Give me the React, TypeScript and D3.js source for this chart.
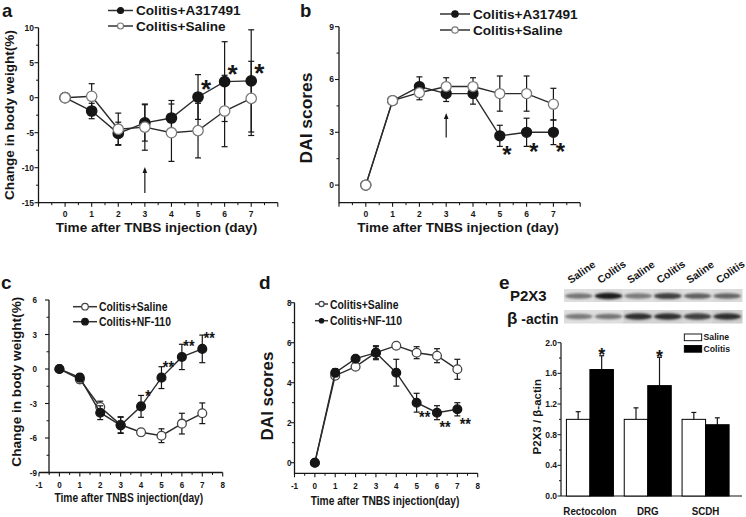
import React from "react";
import * as d3 from "d3";

const FONT = "'Liberation Sans', Arial, Helvetica, sans-serif";
const K = "#161616";

// ---------------- data ----------------
const days = [0, 1, 2, 3, 4, 5, 6, 7];

// panel a: change in body weight (%)
const aA317491 = [0, -1.9, -5.1, -3.6, -2.9, 0.1, 2.3, 2.4];
const aA317491Err = [0, 1.1, 1.6, 2.6, 2.5, 3.2, 5.7, 7.3];
const aSaline = [0, 0.2, -4.5, -4.2, -5.0, -4.7, -1.9, -0.1];
const aSalineErr = [0, 1.8, 2.3, 3.3, 4.1, 3.9, 5.1, 5.3];
const aStars = ["", "", "", "", "", "*", "*", "*"];

// panel b: DAI scores
const bA317491 = [0, 4.8, 5.6, 5.2, 5.2, 2.8, 3.0, 3.0];
const bA317491Err = [0, 0.1, 0.55, 0.45, 0.6, 0.6, 0.8, 0.7];
const bSaline = [0, 4.8, 5.25, 5.6, 5.6, 5.2, 5.2, 4.6];
const bSalineErr = [0, 0.15, 0.4, 0.5, 0.5, 1.0, 1.0, 0.9];
const bStars = ["", "", "", "", "", "*", "*", "*"];

// panel c: change in body weight (%)
const cSaline = [0, -0.9, -3.3, -4.85, -5.5, -5.8, -4.75, -3.85];
const cSalineErr = [0, 0.3, 0.5, 0.7, 0.3, 0.6, 0.9, 0.9];
const cNF110 = [0, -0.75, -3.8, -4.9, -3.25, -0.75, 1.05, 1.75];
const cNF110Err = [0, 0.3, 0.6, 0.7, 0.95, 0.95, 1.1, 1.2];
const cStars = ["", "", "", "", "*", "**", "**", "**"];

// panel d: DAI scores
const dSaline = [0, 4.35, 4.8, 5.5, 5.85, 5.5, 5.35, 4.67];
const dSalineErr = [0, 0.15, 0.12, 0.3, 0.1, 0.3, 0.35, 0.5];
const dNF110 = [0, 4.5, 5.2, 5.5, 4.5, 3.0, 2.5, 2.67];
const dNF110Err = [0, 0.2, 0.15, 0.35, 0.67, 0.47, 0.35, 0.33];
const dStars = ["", "", "", "", "", "**", "**", "**"];

// panel e: P2X3 / beta-actin
const eCategories = ["Rectocolon", "DRG", "SCDH"];
const eGroups = ["Saline", "Colitis"];
const eSaline = [1.0, 1.0, 1.0];
const eSalineErr = [0.1, 0.15, 0.09];
const eColitis = [1.65, 1.44, 0.93];
const eColitisErr = [0.18, 0.37, 0.09];
const eStars = ["*", "*", ""];
const blotLanes = ["Saline", "Colitis", "Saline", "Colitis", "Saline", "Colitis"];
const p2x3Band = [0.62, 0.9, 0.6, 0.8, 0.7, 0.68];
const actinBand = [0.6, 0.62, 0.85, 0.85, 0.8, 0.85];
const actinBg = [0.78, 0.78, 0.72, 0.72, 0.74, 0.7];

// ---------------- helpers ----------------
function CText(p: any) {
  const { x, y, sx = 1, size, anchor = "start", rotate = 0, weight = "bold", fill = K, children, style } = p;
  return (
    <text
      transform={`translate(${x},${y}) rotate(${rotate}) scale(${sx},1)`}
      fontSize={size}
      textAnchor={anchor}
      fontWeight={weight}
      fontFamily={FONT}
      fill={fill}
      style={style}
    >
      {children}
    </text>
  );
}

type Series = { values: number[]; errs: number[]; filled: boolean };

function LineChart(p: any) {
  const x = p.x as d3.ScaleLinear<number, number>;
  const y = p.y as d3.ScaleLinear<number, number>;
  const [yb, yt] = y.range();
  const [xl, xr] = x.range();
  const axX = p.yAxisX ?? xl;
  const sw = 1.3;
  const line = d3
    .line<number>()
    .x((_, i) => x(days[i]))
    .y((v) => y(v));
  const series: Series[] = p.series;
  const sxT = p.tickSx ?? 1;
  return (
    <g>
      <line x1={xl} x2={xr} y1={yb} y2={yb} stroke={K} strokeWidth={sw} />
      <line x1={axX} x2={axX} y1={yb + sw / 2} y2={yt} stroke={K} strokeWidth={sw} />
      {p.xMajor.map((v: number) => (
        <line key={"xM" + v} x1={x(v)} x2={x(v)} y1={yb} y2={yb + 4} stroke={K} strokeWidth={1.1} />
      ))}
      {p.xMinor.map((v: number) => (
        <line key={"xm" + v} x1={x(v)} x2={x(v)} y1={yb} y2={yb + 2.5} stroke={K} strokeWidth={1} />
      ))}
      {p.xLabels.map((v: number) => (
        <CText key={"xl" + v} x={x(v)} y={p.xLabelY} size={p.tickFont} anchor="middle" sx={sxT}>
          {String(v)}
        </CText>
      ))}
      {p.yMajor.map((v: number) => (
        <line key={"yM" + v} x1={axX - 4} x2={axX} y1={y(v)} y2={y(v)} stroke={K} strokeWidth={1.1} />
      ))}
      {p.yMinor.map((v: number) => (
        <line key={"ym" + v} x1={axX - 2.5} x2={axX} y1={y(v)} y2={y(v)} stroke={K} strokeWidth={1} />
      ))}
      {p.yLabels.map((v: number) => (
        <CText key={"yl" + v} x={p.yLabelX} y={y(v) + p.tickFont * 0.35} size={p.tickFont} anchor="end" sx={sxT}>
          {p.yFmt ? p.yFmt(v) : String(v)}
        </CText>
      ))}
      {series.map((s, si) => (
        <g key={"s" + si}>
          <path d={line(s.values) || ""} fill="none" stroke={p.lineStroke} strokeWidth={1.4} />
          {s.values.map((v, i) =>
            s.errs[i] > 0 ? (
              <g key={"e" + i} stroke={K} strokeWidth={1.2}>
                <line x1={x(days[i])} x2={x(days[i])} y1={y(v - s.errs[i])} y2={y(v + s.errs[i])} />
                <line x1={x(days[i]) - p.capW} x2={x(days[i]) + p.capW} y1={y(v - s.errs[i])} y2={y(v - s.errs[i])} />
                <line x1={x(days[i]) - p.capW} x2={x(days[i]) + p.capW} y1={y(v + s.errs[i])} y2={y(v + s.errs[i])} />
              </g>
            ) : null
          )}
          {s.values.map((v, i) => (
            <circle
              key={"c" + i}
              cx={x(days[i])}
              cy={y(v)}
              r={p.r}
              fill={s.filled ? K : "#fff"}
              stroke={s.filled ? K : p.openStroke}
              strokeWidth={1.3}
            />
          ))}
        </g>
      ))}
    </g>
  );
}

function LegendItem(p: any) {
  return (
    <g>
      <line x1={p.x1} x2={p.x2} y1={p.y} y2={p.y} stroke={p.lineStroke ?? "#333"} strokeWidth={1.5} />
      <circle
        cx={(p.x1 + p.x2) / 2}
        cy={p.y}
        r={p.r}
        fill={p.filled ? K : "#fff"}
        stroke={p.filled ? K : p.openStroke ?? "#777"}
        strokeWidth={1.2}
      />
      <CText x={p.tx} y={p.y + p.size * 0.36} size={p.size} sx={p.sx ?? 1}>
        {p.label}
      </CText>
    </g>
  );
}

function Arrow(p: any) {
  const { x, y1, y2 } = p; // y1 bottom, y2 tip
  return (
    <g>
      <line x1={x} x2={x} y1={y1} y2={y2 + 4} stroke={K} strokeWidth={1.2} />
      <path d={`M${x},${y2} L${x - 2.3},${y2 + 6} L${x + 2.3},${y2 + 6} Z`} fill={K} />
    </g>
  );
}

export default function App() {
  // scales
  const ax = d3.scaleLinear().domain([-1, 8]).range([38.5, 277.8]);
  const ay = d3.scaleLinear().domain([-15, 10]).range([202.7, 27.7]);
  const bx = d3.scaleLinear().domain([-1, 8]).range([339, 580.2]);
  const by = d3.scaleLinear().domain([-1, 9]).range([202.7, 26.7]);
  const cx = d3.scaleLinear().domain([-1, 8]).range([39, 222.7]);
  const cy = d3.scaleLinear().domain([-9, 6]).range([472.5, 300]);
  const dx = d3.scaleLinear().domain([-1, 8]).range([294.5, 477.7]);
  const dy = d3.scaleLinear().domain([-0.53, 8]).range([473.3, 302.7]);
  const ey = d3.scaleLinear().domain([0, 2]).range([496, 342.7]);
  const ex0 = d3.scaleBand<string>().domain(eCategories).range([561, 734.5]).padding(0);
  const ex1 = d3
    .scaleBand<string>()
    .domain(eGroups)
    .range([0, ex0.bandwidth()])
    .paddingInner(0)
    .paddingOuter(0.23);
  const laneX = d3.scaleBand<number>().domain(d3.range(6)).range([564, 742]);

  const halfDays = d3.range(-0.5, 8, 1);
  const intDays = d3.range(-1, 9, 1);
  const gray = (t: number) => d3.interpolateGreys(t);

  return (
    <svg
      width={746}
      height={517}
      style={{ position: "absolute", left: 0, top: 0, background: "#fff" }}
      fontFamily={FONT}
    >
      <defs>
        <filter id="blur1" x="-20%" y="-100%" width="140%" height="300%">
          <feGaussianBlur stdDeviation="0.9" />
        </filter>
      </defs>
      <rect x={0} y={0} width={746} height={517} fill="#fff" />

      {/* ================= panel a ================= */}
      <CText x={2} y={17} size={18.5}>a</CText>
      <LineChart
        x={ax}
        y={ay}
        xMajor={intDays}
        xMinor={halfDays}
        xLabels={days}
        xLabelY={216.5}
        yMajor={[-15, -10, -5, 0, 5, 10]}
        yMinor={[-12.5, -7.5, -2.5, 2.5, 7.5]}
        yLabels={[-15, -10, -5, 0, 5, 10]}
        yLabelX={34}
        tickFont={8.5}
        r={5.2}
        capW={3}
        openStroke="#7a7a7a"
        lineStroke="#2a2a2a"
        series={[
          { values: aA317491, errs: aA317491Err, filled: true },
          { values: aSaline, errs: aSalineErr, filled: false },
        ]}
      />
      {aStars.map((s, i) =>
        s ? (
          <CText key={"as" + i} x={ax(days[i]) + 8} y={ay(aA317491[i]) - 14 + 0.58 * 26} size={26} anchor="middle">
            {s}
          </CText>
        ) : null
      )}
      <Arrow x={ax(3)} y1={ay(-13.6)} y2={ay(-9.9)} />
      <LegendItem x1={108} x2={133} y={10.5} r={3} filled tx={136} size={13.6} label="Colitis+A317491" />
      <LegendItem x1={108} x2={133} y={26} r={3} filled={false} tx={136} size={13.6} label="Colitis+Saline" />
      <CText x={156.5} y={232} size={13.6} anchor="middle">Time after TNBS injection (day)</CText>
      <CText x={13.5} y={115} size={13.6} anchor="middle" rotate={-90}>Change in body weight(%)</CText>

      {/* ================= panel b ================= */}
      <CText x={300} y={17} size={18.5}>b</CText>
      <LineChart
        x={bx}
        y={by}
        xMajor={intDays}
        xMinor={halfDays}
        xLabels={days}
        xLabelY={216.5}
        yMajor={[0, 3, 6, 9]}
        yMinor={[1.5, 4.5, 7.5]}
        yLabels={[0, 3, 6, 9]}
        yLabelX={334}
        tickFont={8.5}
        r={5}
        capW={3}
        openStroke="#7a7a7a"
        lineStroke="#2a2a2a"
        series={[
          { values: bA317491, errs: bA317491Err, filled: true },
          { values: bSaline, errs: bSalineErr, filled: false },
        ]}
      />
      {bStars.map((s, i) =>
        s ? (
          <CText key={"bs" + i} x={bx(days[i]) + 7} y={by(bA317491[i]) + 13.5 + 0.58 * 24} size={24} anchor="middle">
            {s}
          </CText>
        ) : null
      )}
      <Arrow x={bx(3)} y1={by(2.7)} y2={by(4.1)} />
      <LegendItem x1={440} x2={470} y={14} r={3.2} filled tx={473} size={13.6} label="Colitis+A317491" />
      <LegendItem x1={440} x2={470} y={30} r={3.2} filled={false} tx={473} size={13.6} label="Colitis+Saline" />
      <CText x={458} y={232} size={13.6} anchor="middle">Time after TNBS injection (day)</CText>
      <CText x={312} y={118} size={17.4} anchor="middle" rotate={-90}>DAI scores</CText>

      {/* ================= panel c ================= */}
      <CText x={1} y={289} size={19}>c</CText>
      <LineChart
        x={cx}
        y={cy}
        yAxisX={49}
        xMajor={intDays}
        xMinor={halfDays}
        xLabels={intDays}
        xLabelY={487.5}
        yMajor={[-9, -6, -3, 0, 3, 6]}
        yMinor={[-7.5, -4.5, -1.5, 1.5, 4.5]}
        yLabels={[-9, -6, -3, 0, 3, 6]}
        yLabelX={37}
        tickFont={9.5}
        tickSx={0.85}
        r={4.4}
        capW={3}
        openStroke="#444"
        lineStroke="#2a2a2a"
        series={[
          { values: cSaline, errs: cSalineErr, filled: false },
          { values: cNF110, errs: cNF110Err, filled: true },
        ]}
      />
      {cStars.map((s, i) =>
        s ? (
          <CText key={"cs" + i} x={cx(days[i]) + 7} y={cy(cNF110[i]) - 14 + 0.58 * 16} size={16} anchor="middle" sx={0.9}>
            {s}
          </CText>
        ) : null
      )}
      <LegendItem x1={73} x2={97} y={306.7} r={3.3} filled={false} openStroke="#444" tx={99} size={13} sx={0.8} label="Colitis+Saline" />
      <LegendItem x1={73} x2={97} y={321.7} r={3.3} filled tx={99} size={13} sx={0.8} label="Colitis+NF-110" />
      <CText x={128.8} y={502} size={12.8} anchor="middle" sx={0.8}>Time after TNBS injection(day)</CText>
      <CText x={21} y={381.7} size={13.6} anchor="middle" rotate={-90}>Change in body weight(%)</CText>

      {/* ================= panel d ================= */}
      <CText x={259} y={289} size={19}>d</CText>
      <LineChart
        x={dx}
        y={dy}
        xMajor={intDays}
        xMinor={halfDays}
        xLabels={intDays}
        xLabelY={488.5}
        yMajor={[0, 2, 4, 6, 8]}
        yMinor={[1, 3, 5, 7]}
        yLabels={[0, 2, 4, 6, 8]}
        yLabelX={291.5}
        tickFont={9.5}
        tickSx={0.85}
        r={4.4}
        capW={3}
        openStroke="#444"
        lineStroke="#2a2a2a"
        series={[
          { values: dSaline, errs: dSalineErr, filled: false },
          { values: dNF110, errs: dNF110Err, filled: true },
        ]}
      />
      {dStars.map((s, i) =>
        s ? (
          <CText key={"ds" + i} x={dx(days[i]) + 8} y={dy(dNF110[i]) + 11 + 0.58 * 16} size={16} anchor="middle" sx={0.9}>
            {s}
          </CText>
        ) : null
      )}
      <LegendItem x1={315} x2={328} y={304} r={2.6} filled={false} openStroke="#444" tx={330} size={13} sx={0.8} label="Colitis+Saline" />
      <LegendItem x1={315} x2={328} y={320.7} r={2.2} filled tx={330} size={13} sx={0.8} label="Colitis+NF-110" />
      <CText x={385} y={504.5} size={12.8} anchor="middle" sx={0.8}>Time after TNBS injection(day)</CText>
      <CText x={273} y={396} size={17} anchor="middle" rotate={-90}>DAI scores</CText>

      {/* ================= panel e ================= */}
      <CText x={499} y={289} size={19}>e</CText>
      <CText x={510} y={301} size={15}>P2X3</CText>
      <text x={507} y={324} fontFamily={FONT} fontWeight="bold" fill={K}>
        <tspan fontSize={17}>β</tspan>
        <tspan fontSize={14}> -actin</tspan>
      </text>
      {blotLanes.map((lab, i) => (
        <CText key={"lane" + i} x={(laneX(i) as number) + laneX.bandwidth() / 2 - 8} y={284} size={10.5} rotate={-35}>
          {lab}
        </CText>
      ))}
      {/* blot strips */}
      {blotLanes.map((_, i) => (
        <g key={"blot" + i}>
          <rect x={laneX(i)} y={289} width={laneX.bandwidth() + 0.5} height={13} fill={gray(0.22 + (i % 2) * 0.02)} />
          <rect x={laneX(i)} y={310} width={laneX.bandwidth() + 0.5} height={13.5} fill={gray(1 - actinBg[i])} />
        </g>
      ))}
      <g filter="url(#blur1)">
        {blotLanes.map((_, i) => (
          <g key={"band" + i}>
            <ellipse
              cx={(laneX(i) as number) + laneX.bandwidth() / 2}
              cy={296}
              rx={laneX.bandwidth() / 2 - 1}
              ry={1.6 + p2x3Band[i] * 1.8}
              fill={gray(p2x3Band[i])}
            />
            <ellipse
              cx={(laneX(i) as number) + laneX.bandwidth() / 2}
              cy={316.5}
              rx={laneX.bandwidth() / 2 - 1}
              ry={1.6 + actinBand[i] * 2}
              fill={gray(actinBand[i])}
            />
          </g>
        ))}
      </g>

      {/* bar chart */}
      <line x1={561} x2={742} y1={ey(0)} y2={ey(0)} stroke={K} strokeWidth={1.2} />
      <line x1={561} x2={561} y1={ey(0)} y2={ey(2)} stroke={K} strokeWidth={1.2} />
      {d3.range(0, 2.01, 0.4).map((v) => (
        <g key={"eyt" + v}>
          <line x1={557.5} x2={561} y1={ey(v)} y2={ey(v)} stroke={K} strokeWidth={1} />
          <CText x={557} y={ey(v) + 3} size={8.5} anchor="end">
            {d3.format(".1f")(v)}
          </CText>
        </g>
      ))}
      {d3.range(0.2, 2, 0.4).map((v) => (
        <line key={"eym" + v} x1={559} x2={561} y1={ey(v)} y2={ey(v)} stroke={K} strokeWidth={1} />
      ))}
      {eCategories.map((cat, ci) => {
        const gx = ex0(cat) as number;
        const vals = [eSaline[ci], eColitis[ci]];
        const errs = [eSalineErr[ci], eColitisErr[ci]];
        return (
          <g key={"eg" + cat}>
            {eGroups.map((g, gi) => {
              const bx0 = gx + (ex1(g) as number);
              const bw = ex1.bandwidth();
              const mid = bx0 + bw / 2;
              return (
                <g key={g}>
                  <line x1={mid} x2={mid} y1={ey(vals[gi])} y2={ey(vals[gi] + errs[gi])} stroke={K} strokeWidth={1.2} />
                  <line x1={mid - 2.5} x2={mid + 2.5} y1={ey(vals[gi] + errs[gi])} y2={ey(vals[gi] + errs[gi])} stroke={K} strokeWidth={1.2} />
                  <rect
                    x={bx0}
                    y={ey(vals[gi])}
                    width={bw}
                    height={ey(0) - ey(vals[gi])}
                    fill={gi === 0 ? "#fff" : "#000"}
                    stroke="#000"
                    strokeWidth={1}
                  />
                </g>
              );
            })}
            {eStars[ci] ? (
              <CText
                x={gx + (ex1("Colitis") as number) + ex1.bandwidth() / 2}
                y={ey(eColitis[ci] + eColitisErr[ci]) - 5 + 0.58 * 18}
                size={18}
                anchor="middle"
              >
                {eStars[ci]}
              </CText>
            ) : null}
            <CText x={gx + ex0.bandwidth() / 2} y={515} size={11.5} anchor="middle" sx={0.85}>
              {cat}
            </CText>
          </g>
        );
      })}
      {/* legend e */}
      <rect x={684.3} y={334} width={17.4} height={6.7} fill="#fff" stroke="#000" strokeWidth={0.9} />
      <CText x={703.5} y={340.3} size={8.7}>Saline</CText>
      <rect x={684.3} y={345.5} width={17.4} height={6.7} fill="#000" stroke="#000" strokeWidth={0.9} />
      <CText x={703.5} y={352} size={8.7}>Colitis</CText>
      <CText x={541} y={416.7} size={11.5} anchor="middle" rotate={-90}>P2X3 / β-actin</CText>
    </svg>
  );
}
